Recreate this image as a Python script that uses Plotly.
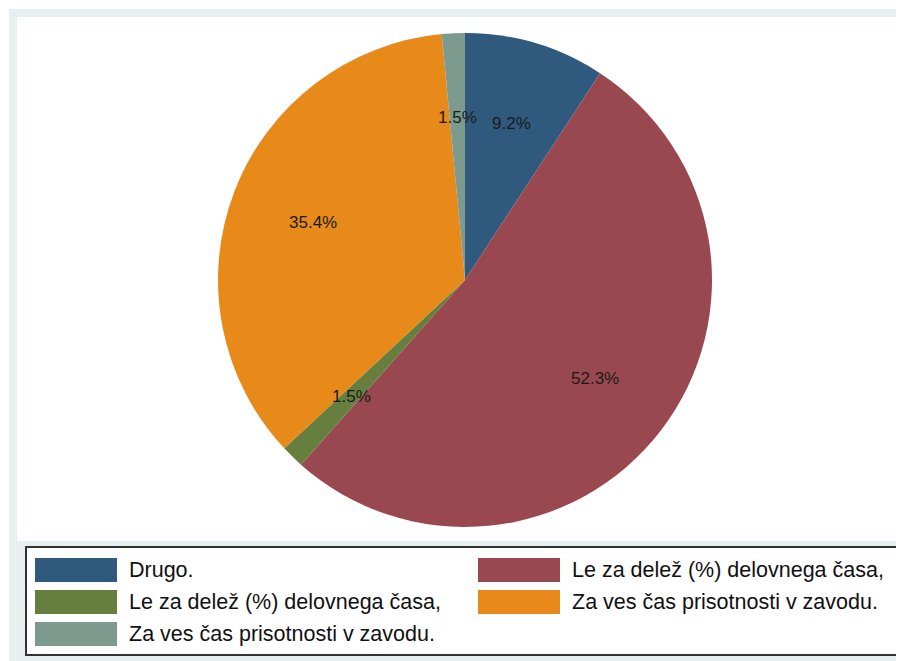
import math
import plotly.graph_objects as go

# ---- data ----
labels = [
    "Drugo.",
    "Le za delež (%) delovnega časa,",
    "Le za delež (%) delovnega časa, ",
    "Za ves čas prisotnosti v zavodu.",
    "Za ves čas prisotnosti v zavodu. ",
]
values = [9.2, 52.3, 1.5, 35.4, 1.5]
colors = ["#2f5a7e", "#9a4850", "#667f3f", "#e88a1a", "#7d9a8f"]

# page body has an 8px margin; figure fills the rest of the 904x661 window
OFF = 8
W, H = 904 - OFF, 661 - OFF

def px(x):
    return (x - OFF) / W

def py(y):
    return 1 - (y - OFF) / H

# pie geometry (page pixels)
cx, cy, r = 465, 280, 247

fig = go.Figure()
fig.add_trace(go.Pie(
    labels=labels,
    values=values,
    marker=dict(colors=colors, line=dict(width=0)),
    sort=False,
    direction="clockwise",
    rotation=0,
    textinfo="none",
    hoverinfo="label+value",
    showlegend=False,
    domain=dict(x=[px(cx - r), px(cx + r)], y=[py(cy + r), py(cy - r)]),
))

shapes = [
    dict(type="rect", xref="paper", yref="paper", x0=px(9), x1=px(904), y0=py(661), y1=py(9),
         fillcolor="#e8eff1", line=dict(width=0), layer="below"),
    dict(type="rect", xref="paper", yref="paper", x0=px(17), x1=px(904), y0=py(541), y1=py(17),
         fillcolor="white", line=dict(width=0), layer="below"),
    dict(type="rect", xref="paper", yref="paper", x0=px(26), x1=px(901), y0=py(655), y1=py(547),
         fillcolor="white", line=dict(color="#333333", width=2), layer="below"),
]

annotations = []
# slice labels, positioned from data at 0.66 radius
total = sum(values)
cum = 0.0
for v in values:
    mid = (cum + v / 2) / total * 2 * math.pi
    cum += v
    x = cx + 0.66 * r * math.sin(mid)
    y = cy - 0.66 * r * math.cos(mid)
    annotations.append(dict(
        x=px(x), y=py(y), xref="paper", yref="paper", text=f"{v:.1f}%",
        showarrow=False, xanchor="center", yanchor="middle",
        font=dict(family="Liberation Sans, Arial", size=17, color="#1a1a1a"),
    ))

# legend: two columns, rows
for i, (lab, col) in enumerate(zip(labels, colors)):
    c, row = i % 2, i // 2
    sx0 = 35 + c * 443
    sy0 = 558 + row * 32
    shapes.append(dict(type="rect", xref="paper", yref="paper",
                       x0=px(sx0), x1=px(sx0 + 82), y0=py(sy0 + 24), y1=py(sy0),
                       fillcolor=col, line=dict(width=0)))
    annotations.append(dict(
        x=px(sx0 + 92), y=py(sy0 + 12), xref="paper", yref="paper", text=lab.strip(),
        showarrow=False, xanchor="left", yanchor="middle",
        font=dict(family="Liberation Sans, Arial", size=21.5, color="#111111"),
    ))

fig.update_layout(
    width=W, height=H,
    margin=dict(l=0, r=0, t=0, b=0),
    paper_bgcolor="white",
    plot_bgcolor="white",
    shapes=shapes,
    annotations=annotations,
)

fig.write_html("out.html")
